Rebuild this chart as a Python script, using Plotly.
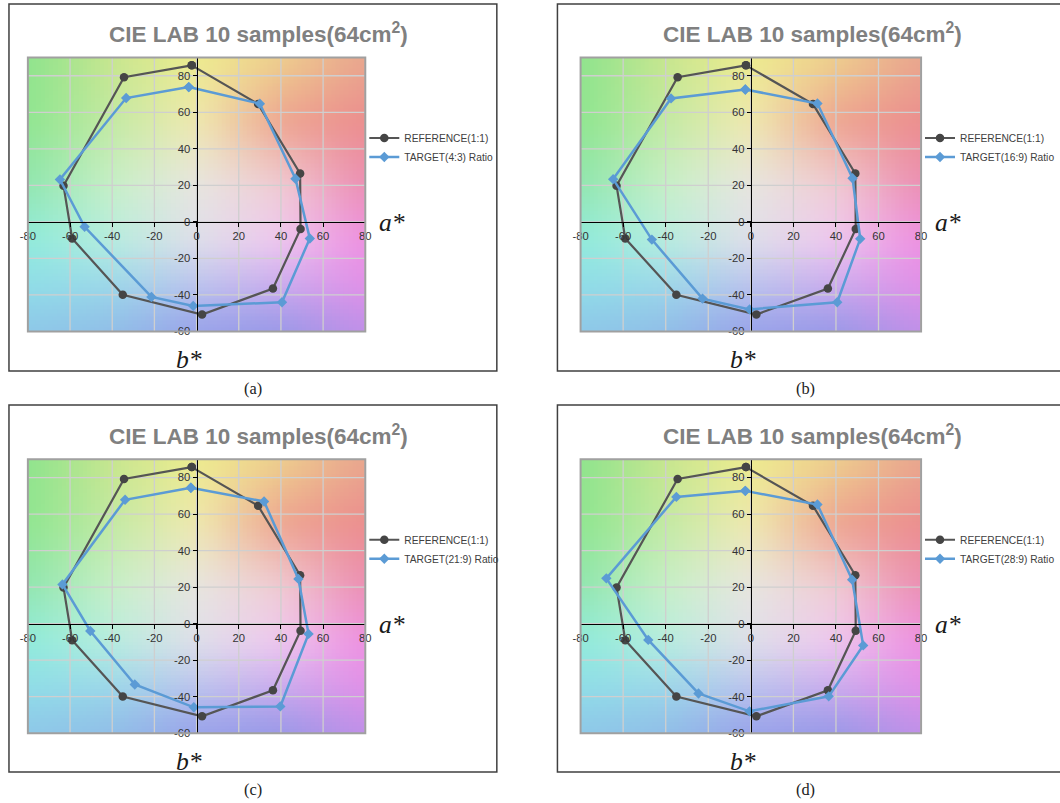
import numpy as np
import plotly.graph_objects as go

# ---------------- data ----------------
REF_A = [-2.3, 29.2, 49.1, 49.3, 36.2, 2.6, -35.0, -59.0, -63.1, -34.4]
REF_B = [85.7, 64.5, 26.5, -3.9, -36.5, -50.7, -39.9, -9.1, 19.8, 79.2]

TGT_43_A = [-3.7, 30.0, 46.9, 53.7, 40.5, -1.6, -21.4, -53.1, -64.8, -33.4]
TGT_43_B = [73.8, 64.7, 23.6, -9.1, -44.0, -46.0, -41.1, -2.7, 23.2, 67.8]
TGT_169_A = [-2.6, 31.3, 47.8, 51.4, 40.6, -0.6, -22.7, -46.5, -64.7, -37.5]
TGT_169_B = [72.5, 64.8, 23.9, -9.3, -44.0, -47.9, -42.0, -9.7, 23.4, 67.6]
TGT_219_A = [-2.7, 32.0, 48.3, 53.1, 39.7, -1.3, -29.3, -50.4, -63.6, -33.9]
TGT_219_B = [74.4, 66.9, 24.5, -5.6, -45.3, -45.8, -33.3, -4.0, 21.5, 67.8]
TGT_289_A = [-2.6, 31.3, 47.6, 52.8, 36.6, -0.6, -24.6, -48.2, -67.9, -35.0]
TGT_289_B = [72.7, 65.2, 24.1, -11.9, -39.8, -48.0, -38.2, -8.9, 24.8, 69.4]

REF_NAME = "REFERENCE(1:1)"
TARGET_NAMES = ["TARGET(4:3) Ratio", "TARGET(16:9) Ratio", "TARGET(21:9) Ratio", "TARGET(28:9) Ratio"]
CAPTIONS = ["(a)", "(b)", "(c)", "(d)"]
TITLE = "<b>CIE LAB 10 samples(64cm<sup>2</sup>)</b>"

A_RANGE = [-80, 80]
B_RANGE = [-60, 90]
A_TICKS = [-80, -60, -40, -20, 0, 20, 40, 60, 80]
B_TICKS = [-60, -40, -20, 0, 20, 40, 60, 80]

BG_A = [-80, -40, 0, 40, 80]
BG_B = [90, 55, 20, -10, -35, -60]
BG_COLORS = [
    ["#8EE48E", "#C8E68E", "#EEEC8E", "#EED08E", "#E9A68E"],
    ["#8FE690", "#C4EAA4", "#F0EAB0", "#EEA490", "#EC8E8E"],
    ["#90E6B0", "#C8F0C8", "#E8E6E2", "#F0CCD4", "#EC8EB4"],
    ["#90ECDC", "#B8EEE0", "#E0E0EA", "#F0C8F0", "#EE90E2"],
    ["#90DEE8", "#9CD8EA", "#BCC4EE", "#CCACEE", "#E290E8"],
    ["#8EC8E8", "#90BEE8", "#98A2EA", "#9898E8", "#C090E8"],
]

W, H = 1060, 803
# the photographed page comes out slightly shifted / scaled; pre-compensate
SX, OX, SY = 0.978, 8.0, 0.9926
def px(x):
    return (x - OX) / SX
def py(y):
    return y / SY
FS = 1.0 / SX

def hex2rgb(h):
    h = h.lstrip("#")
    return [int(h[i:i + 2], 16) for i in (0, 2, 4)]

NA, NB = 80, 75
da = (A_RANGE[1] - A_RANGE[0]) / NA
db = (B_RANGE[1] - B_RANGE[0]) / NB
ac = A_RANGE[0] + (np.arange(NA) + 0.5) * da
bc = B_RANGE[0] + (np.arange(NB) + 0.5) * db
anch = np.array([[hex2rgb(c) for c in row] for row in BG_COLORS], dtype=float)
rows_a = np.zeros((len(BG_B), NA, 3))
for i in range(len(BG_B)):
    for ch in range(3):
        rows_a[i, :, ch] = np.interp(ac, BG_A, anch[i, :, ch])
bb_asc = BG_B[::-1]
img = np.zeros((NB, NA, 3))
for j in range(NA):
    for ch in range(3):
        img[:, j, ch] = np.interp(bc, bb_asc, rows_a[::-1, j, ch])

def blur(arr, sigma=3.0):
    r = int(3 * sigma)
    k = np.exp(-0.5 * (np.arange(-r, r + 1) / sigma) ** 2)
    k /= k.sum()
    out = arr.copy()
    for axis in (0, 1):
        pad = [(0, 0)] * 3
        pad[axis] = (r, r)
        p = np.pad(out, pad, mode="edge")
        res = np.zeros_like(out)
        for idx, w in enumerate(k):
            sl = [slice(None)] * 3
            sl[axis] = slice(idx, idx + out.shape[axis])
            res += w * p[tuple(sl)]
        out = res
    return out

img = np.clip(blur(img), 0, 255).astype(int).tolist()

# target pixel geometry (as seen in the reference)
COL_X = [(28.0, 367.6), (584.3, 927.0)]
ROW_Y = [(57.5, 331.5), (459.3, 733.3)]
FRAMES = [(5, 4, 500, 371), (561, 4, 1090, 371), (5, 405, 500, 772), (561, 405, 1090, 772)]

panels = [
    (TGT_43_A, TGT_43_B),
    (TGT_169_A, TGT_169_B),
    (TGT_219_A, TGT_219_B),
    (TGT_289_A, TGT_289_B),
]

fig = go.Figure()
layout = dict(
    width=W, height=H, margin=dict(l=0, r=0, t=0, b=0, pad=0),
    paper_bgcolor="white", plot_bgcolor="white",
    showlegend=True, hovermode=False,
    font=dict(family="Arial", color="#404040"),
)
shapes = []
annotations = []
tickfont = dict(family="Arial", size=11 * FS, color="#333333")

for k, (ta, tb) in enumerate(panels):
    r, c = divmod(k, 2)
    sfx = "" if k == 0 else str(k + 1)
    xname, yname = "x" + sfx, "y" + sfx
    x0p, x1p = COL_X[c]
    y0p, y1p = ROW_Y[r]
    xd = [px(x0p) / W, px(x1p) / W]
    yd = [1 - py(y1p) / H, 1 - py(y0p) / H]
    xpos = yd[0] + (0 - B_RANGE[0]) / (B_RANGE[1] - B_RANGE[0]) * (yd[1] - yd[0])
    ypos = xd[0] + (0 - A_RANGE[0]) / (A_RANGE[1] - A_RANGE[0]) * (xd[1] - xd[0])
    layout["xaxis" + sfx] = dict(
        domain=xd, range=A_RANGE, tickvals=A_TICKS, ticktext=[str(v) for v in A_TICKS],
        showgrid=False, zeroline=False,
        showline=True, linecolor="black", linewidth=1, ticks="outside", ticklen=4,
        tickcolor="black", tickfont=tickfont,
        anchor="free", position=xpos, fixedrange=True, layer="above traces",
    )
    layout["yaxis" + sfx] = dict(
        domain=yd, range=B_RANGE, tickvals=B_TICKS, ticktext=[str(v) for v in B_TICKS],
        showgrid=False, zeroline=False,
        showline=True, linecolor="black", linewidth=1, ticks="outside", ticklen=4,
        tickcolor="black", tickfont=tickfont,
        anchor="free", position=ypos, fixedrange=True, scaleanchor=False,
        layer="above traces",
    )
    fig.add_trace(go.Image(z=img, x0=ac[0], dx=da, y0=bc[0], dy=db, zsmooth="fast",
                           colormodel="rgb", xaxis=xname, yaxis=yname, hoverinfo="skip"))
    gx, gy = [], []
    for a in A_TICKS[1:-1]:
        gx += [a, a, None]
        gy += [B_RANGE[0], B_RANGE[1], None]
    for b in B_TICKS[1:]:
        gx += [A_RANGE[0], A_RANGE[1], None]
        gy += [b, b, None]
    fig.add_trace(go.Scatter(x=gx, y=gy, mode="lines", line=dict(color="#CFCFCF", width=1.3),
                             xaxis=xname, yaxis=yname, showlegend=False, hoverinfo="skip"))
    leg = "legend" if k == 0 else "legend" + str(k + 1)
    fig.add_trace(go.Scatter(
        x=REF_A + REF_A[:1], y=REF_B + REF_B[:1], mode="lines+markers", name=REF_NAME,
        line=dict(color="#555555", width=2.2), marker=dict(symbol="circle", size=8.5, color="#454545"),
        xaxis=xname, yaxis=yname, legend=leg))
    fig.add_trace(go.Scatter(
        x=ta + ta[:1], y=tb + tb[:1], mode="lines+markers", name=TARGET_NAMES[k],
        line=dict(color="#5B9BD5", width=2.5), marker=dict(symbol="diamond", size=8, color="#5B9BD5"),
        xaxis=xname, yaxis=yname, legend=leg))
    layout[leg] = dict(
        x=px(x1p - 1) / W, y=1 - py(y0p + 66) / H, xanchor="left", yanchor="top",
        font=dict(family="Arial", size=10 * FS, color="#404040"), bgcolor="rgba(0,0,0,0)",
        borderwidth=0, itemwidth=30, tracegroupgap=0,
    )
    shapes.append(dict(type="rect", xref=xname + " domain", yref=yname + " domain",
                       x0=0, x1=1, y0=0, y1=1, line=dict(color="#A0A0A0", width=2), layer="above"))
    fx0, fy0, fx1, fy1 = FRAMES[k]
    shapes.append(dict(type="rect", xref="paper", yref="paper",
                       x0=max(px(fx0), 1.0) / W, x1=px(fx1) / W,
                       y0=1 - py(fy1) / H, y1=1 - py(fy0) / H, line=dict(color="#404040", width=1.5)))
    cx = (x0p + x1p) / 2
    annotations.append(dict(text=TITLE, xref="paper", yref="paper", x=px(cx + 62) / W,
                            y=1 - py(y0p - 24) / H, showarrow=False, xanchor="center", yanchor="middle",
                            font=dict(family="Arial", size=22 * FS, color="#808080")))
    yzero = y1p - (0 - B_RANGE[0]) / (B_RANGE[1] - B_RANGE[0]) * (y1p - y0p)
    annotations.append(dict(text="<i>a*</i>", xref="paper", yref="paper", x=px(x1p + 27) / W,
                            y=1 - py(yzero + 1) / H, showarrow=False, xanchor="center", yanchor="middle",
                            font=dict(family="Liberation Serif", size=25 * FS, color="#1a1a1a")))
    annotations.append(dict(text="<i>b*</i>", xref="paper", yref="paper", x=px(cx - 8) / W,
                            y=1 - py(y1p + 28) / H, showarrow=False, xanchor="center", yanchor="middle",
                            font=dict(family="Liberation Serif", size=25 * FS, color="#1a1a1a")))
    annotations.append(dict(text=CAPTIONS[k], xref="paper", yref="paper", x=px(fx0 + 250) / W,
                            y=1 - py(fy1 + 18) / H, showarrow=False, xanchor="center", yanchor="middle",
                            font=dict(family="Liberation Serif", size=16 * FS, color="#222222")))

layout["shapes"] = shapes
layout["annotations"] = annotations
fig.update_layout(**layout)
fig.write_html(
    "out.html",
    config={"displayModeBar": False},
    post_script=(
        "var d=document.getElementById('{plot_id}');"
        "d.style.position='fixed';d.style.left='0px';d.style.top='0px';"
        "document.body.style.margin='0';document.body.style.padding='0';"
        "document.documentElement.style.overflow='hidden';document.body.style.overflow='hidden';"
    ),
)
